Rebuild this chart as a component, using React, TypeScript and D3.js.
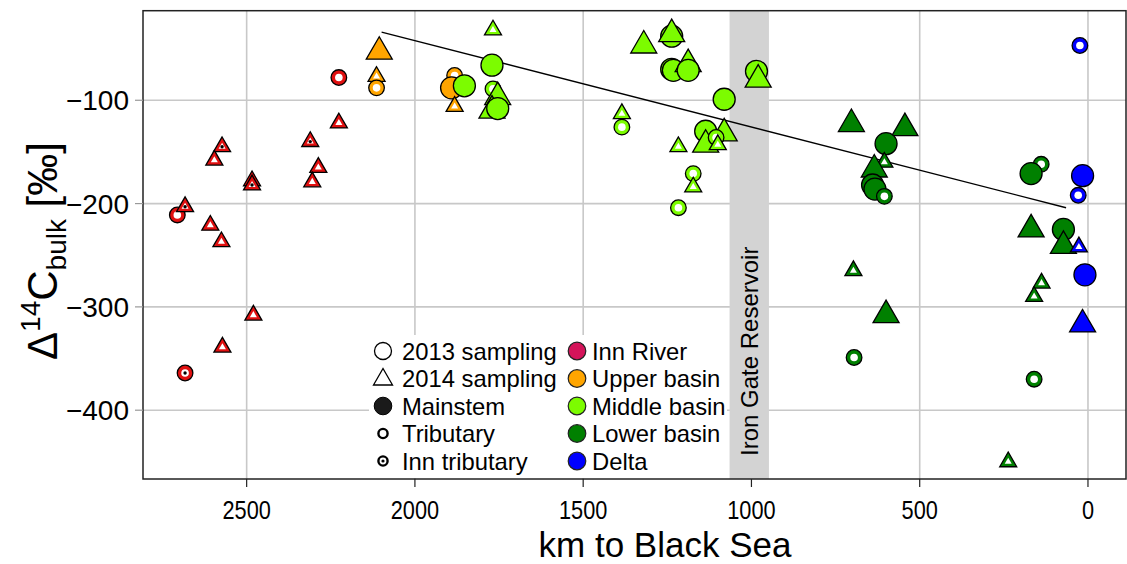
import React from "react";
import * as d3 from "d3";

const W = 1127;
const H = 564;

// ---------- data ----------
const regions = ["Inn River", "Upper basin", "Middle basin", "Lower basin", "Delta"];
const regionFill = ["#e01010", "#ffa500", "#7cfc00", "#008000", "#0000ff"];
const legendRegionFill = ["#d4145a", "#ffa500", "#7cfc00", "#008000", "#0000ff"];

// [km to Black Sea, Δ14C (‰), sampling year, type: M mainstem / T tributary / I Inn tributary]
type Pt = [number, number, number, string];

const innRiverPts: Pt[] = [
  [2706, -211, 2013, "T"],
  [2683, -203, 2014, "I"],
  [2608, -221, 2014, "T"],
  [2575, -237, 2014, "T"],
  [2480, -308, 2014, "T"],
  [2572, -339, 2014, "T"],
  [2683, -364, 2013, "I"],
  [2226, -78, 2013, "T"],
  [2226, -122, 2014, "T"],
  [2311, -140, 2014, "I"],
  [2287, -165, 2014, "T"],
  [2305, -179, 2014, "T"],
  [2573, -145, 2014, "I"],
  [2596, -158, 2014, "T"],
  [2484, -178, 2014, "T"],
  [2484, -182, 2014, "I"],
];

const upperBasinPts: Pt[] = [
  [2106, -53, 2014, "M"],
  [2114, -77, 2014, "T"],
  [2114, -88, 2013, "T"],
  [1882, -76, 2013, "T"],
  [1891, -88, 2013, "M"],
  [1882, -106, 2014, "T"],
];

const middleBasinPts: Pt[] = [
  [1853, -86, 2013, "M"],
  [1768, -32, 2014, "T"],
  [1771, -66, 2013, "M"],
  [1768, -89, 2013, "T"],
  [1754, -97, 2014, "M"],
  [1771, -110, 2014, "M"],
  [1754, -108, 2013, "M"],
  [1320, -47, 2014, "M"],
  [1237, -38, 2013, "M"],
  [1237, -36, 2014, "M"],
  [1237, -70, 2013, "M"],
  [1232, -71, 2013, "M"],
  [1188, -65, 2014, "M"],
  [1188, -71, 2013, "M"],
  [1385, -113, 2014, "T"],
  [1385, -126, 2013, "T"],
  [1081, -99, 2013, "M"],
  [1081, -132, 2014, "M"],
  [1136, -130, 2013, "M"],
  [1136, -143, 2014, "M"],
  [1105, -136, 2013, "T"],
  [1100, -143, 2014, "T"],
  [1217, -145, 2014, "T"],
  [1173, -171, 2013, "T"],
  [1173, -184, 2014, "T"],
  [1217, -204, 2013, "T"],
  [985, -72, 2013, "M"],
  [980, -80, 2014, "M"],
];

const lowerBasinPts: Pt[] = [
  [703, -123, 2014, "M"],
  [544, -127, 2014, "M"],
  [600, -142, 2013, "M"],
  [605, -160, 2014, "T"],
  [635, -167, 2014, "M"],
  [640, -182, 2013, "M"],
  [633, -186, 2013, "M"],
  [605, -193, 2013, "T"],
  [697, -265, 2014, "T"],
  [600, -308, 2014, "M"],
  [139, -162, 2013, "T"],
  [169, -171, 2013, "M"],
  [169, -225, 2014, "M"],
  [73, -225, 2013, "M"],
  [73, -241, 2014, "M"],
  [138, -277, 2014, "T"],
  [160, -290, 2014, "T"],
  [695, -349, 2013, "T"],
  [160, -370, 2013, "T"],
  [237, -450, 2014, "T"],
];

const deltaPts: Pt[] = [
  [24, -47, 2013, "T"],
  [16, -173, 2013, "M"],
  [29, -192, 2013, "T"],
  [27, -242, 2014, "T"],
  [9, -269, 2013, "M"],
  [16, -317, 2014, "M"],
];

const regionPts: Pt[][] = [innRiverPts, upperBasinPts, middleBasinPts, lowerBasinPts, deltaPts];

const xTicks = [2500, 2000, 1500, 1000, 500, 0];
const yTicks = [-100, -200, -300, -400];
const trendKm = [2099, 65];
const trendD14C = [-34, -204];
const reservoirKm = [948, 1065];

const legendLeft = ["2013 sampling", "2014 sampling", "Mainstem", "Tributary", "Inn tributary"];

// ---------- layout ----------
const plot = { left: 143, right: 1126, top: 10.7, bottom: 479 };
const x = d3.scaleLinear().domain([2808, -113]).range([plot.left, plot.right]);
const y = d3.scaleLinear().domain([-13.3, -466.6]).range([plot.top, plot.bottom]);

const FONT = "'Liberation Sans', Arial, Helvetica, sans-serif";

function tri(cx: number, cy: number, s: number) {
  const h = (s * Math.sqrt(3)) / 2;
  return `M${cx},${cy - (2 * h) / 3}L${cx - s / 2},${cy + h / 3}L${cx + s / 2},${cy + h / 3}Z`;
}

function Marker({ p, color }: { p: Pt; color: string }) {
  const cx = x(p[0]);
  const cy = y(p[1]);
  const isTri = p[2] === 2014;
  const main = p[3] === "M";
  const sw = 1.3;
  if (main) {
    return isTri ? (
      <path d={tri(cx, cy, 26)} fill={color} stroke="#000" strokeWidth={sw} strokeLinejoin="miter" />
    ) : (
      <circle cx={cx} cy={cy} r={11} fill={color} stroke="#000" strokeWidth={sw} />
    );
  }
  const inn = p[3] === "I";
  return (
    <g>
      {isTri ? (
        <>
          <path d={tri(cx, cy, 17)} fill={color} stroke="#000" strokeWidth={sw} />
          <path d={tri(cx, cy, 7)} fill="#fff" />
        </>
      ) : (
        <>
          <circle cx={cx} cy={cy} r={7.8} fill={color} stroke="#000" strokeWidth={sw} />
          <circle cx={cx} cy={cy} r={3.8} fill="#fff" />
        </>
      )}
      {inn && <circle cx={cx} cy={cy} r={1.7} fill="#000" />}
    </g>
  );
}

export default function App() {
  const lineGen = d3
    .line<number>()
    .x((d) => x(d))
    .y((_, i) => y(trendD14C[i]));
  const bx0 = x(reservoirKm[1]);
  const bx1 = x(reservoirKm[0]);
  const legRows = [351, 378.5, 406, 433.5, 461];
  const c1 = 383;
  const c2 = 577;
  return (
    <svg
      width={W}
      height={H}
      style={{ position: "absolute", left: 0, top: 0, background: "#fff" }}
      fontFamily={FONT}
    >
      <rect x={0} y={0} width={W} height={H} fill="#fff" />
      {/* grid */}
      {xTicks.map((t) => (
        <line key={"gx" + t} x1={x(t)} x2={x(t)} y1={plot.top} y2={plot.bottom} stroke="#c8c8c8" strokeWidth={1.6} />
      ))}
      {yTicks.map((t) => (
        <line key={"gy" + t} x1={plot.left} x2={plot.right} y1={y(t)} y2={y(t)} stroke="#c8c8c8" strokeWidth={1.6} />
      ))}
      {/* reservoir band */}
      <rect x={bx0} y={plot.top} width={bx1 - bx0} height={plot.bottom - plot.top} fill="#d3d3d3" />
      <text transform={`translate(${(bx0 + bx1) / 2 + 9},456) rotate(-90)`} fontSize={24} fill="#000">
        Iron Gate Reservoir
      </text>
      {/* trend line */}
      <path d={lineGen(trendKm) || ""} fill="none" stroke="#000" strokeWidth={1.4} />
      {/* points */}
      {regionPts.map((pts, ri) =>
        pts.map((p, i) => <Marker key={ri + "-" + i} p={p} color={regionFill[ri]} />)
      )}
      {/* legend */}
      <rect x={369} y={335} width={358} height={143} fill="#fff" />
      <g fontSize={23.8} fill="#000">
        {legendLeft.map((t, i) => (
          <text key={t} x={c1 + 19} y={legRows[i]} dy="0.36em">
            {t}
          </text>
        ))}
        {regions.map((t, i) => (
          <text key={t} x={c2 + 15} y={legRows[i]} dy="0.36em">
            {t}
          </text>
        ))}
      </g>
      <circle cx={c1} cy={legRows[0]} r={8.5} fill="#fff" stroke="#000" strokeWidth={1.3} />
      <path d={tri(c1, legRows[1] + 1, 19)} fill="#fff" stroke="#000" strokeWidth={1.3} />
      <circle cx={c1} cy={legRows[2]} r={8.8} fill="#1a1a1a" stroke="#000" strokeWidth={1} />
      <circle cx={c1} cy={legRows[3]} r={4.6} fill="#fff" stroke="#000" strokeWidth={2.4} />
      <circle cx={c1} cy={legRows[4]} r={4.6} fill="#fff" stroke="#000" strokeWidth={2.4} />
      <circle cx={c1} cy={legRows[4]} r={1.6} fill="#000" />
      {regions.map((t, i) => (
        <circle key={"lc" + t} cx={c2} cy={legRows[i]} r={8.8} fill={legendRegionFill[i]} stroke="#222" strokeWidth={1.2} />
      ))}
      {/* frame */}
      <rect
        x={plot.left}
        y={plot.top}
        width={plot.right - plot.left}
        height={plot.bottom - plot.top}
        fill="none"
        stroke="#222"
        strokeWidth={1.5}
      />
      {/* axes ticks */}
      {xTicks.map((t) => (
        <g key={"tx" + t}>
          <line x1={x(t)} x2={x(t)} y1={plot.bottom} y2={plot.bottom + 8} stroke="#222" strokeWidth={1.2} />
          <text
            transform={`translate(${x(t)},${plot.bottom + 40}) scale(0.87,1)`}
            textAnchor="middle"
            fontSize={25}
          >
            {t}
          </text>
        </g>
      ))}
      {yTicks.map((t) => (
        <g key={"ty" + t}>
          <line x1={plot.left - 8} x2={plot.left} y1={y(t)} y2={y(t)} stroke="#999" strokeWidth={1.2} />
          <text x={plot.left - 14} y={y(t)} dy="0.36em" textAnchor="end" fontSize={28}>
            {"\u2212" + Math.abs(t)}
          </text>
        </g>
      ))}
      {/* axis titles */}
      <text x={665} y={557} textAnchor="middle" fontSize={35}>
        km to Black Sea
      </text>
      <text transform={`translate(57,251) rotate(-90)`} textAnchor="middle" fontSize={42}>
        Δ<tspan fontSize={28} dy={-17}>14</tspan>
        <tspan dy={17}>C</tspan>
        <tspan fontSize={28} dy={9}>bulk</tspan>
        <tspan dy={-9}> [‰]</tspan>
      </text>
    </svg>
  );
}
